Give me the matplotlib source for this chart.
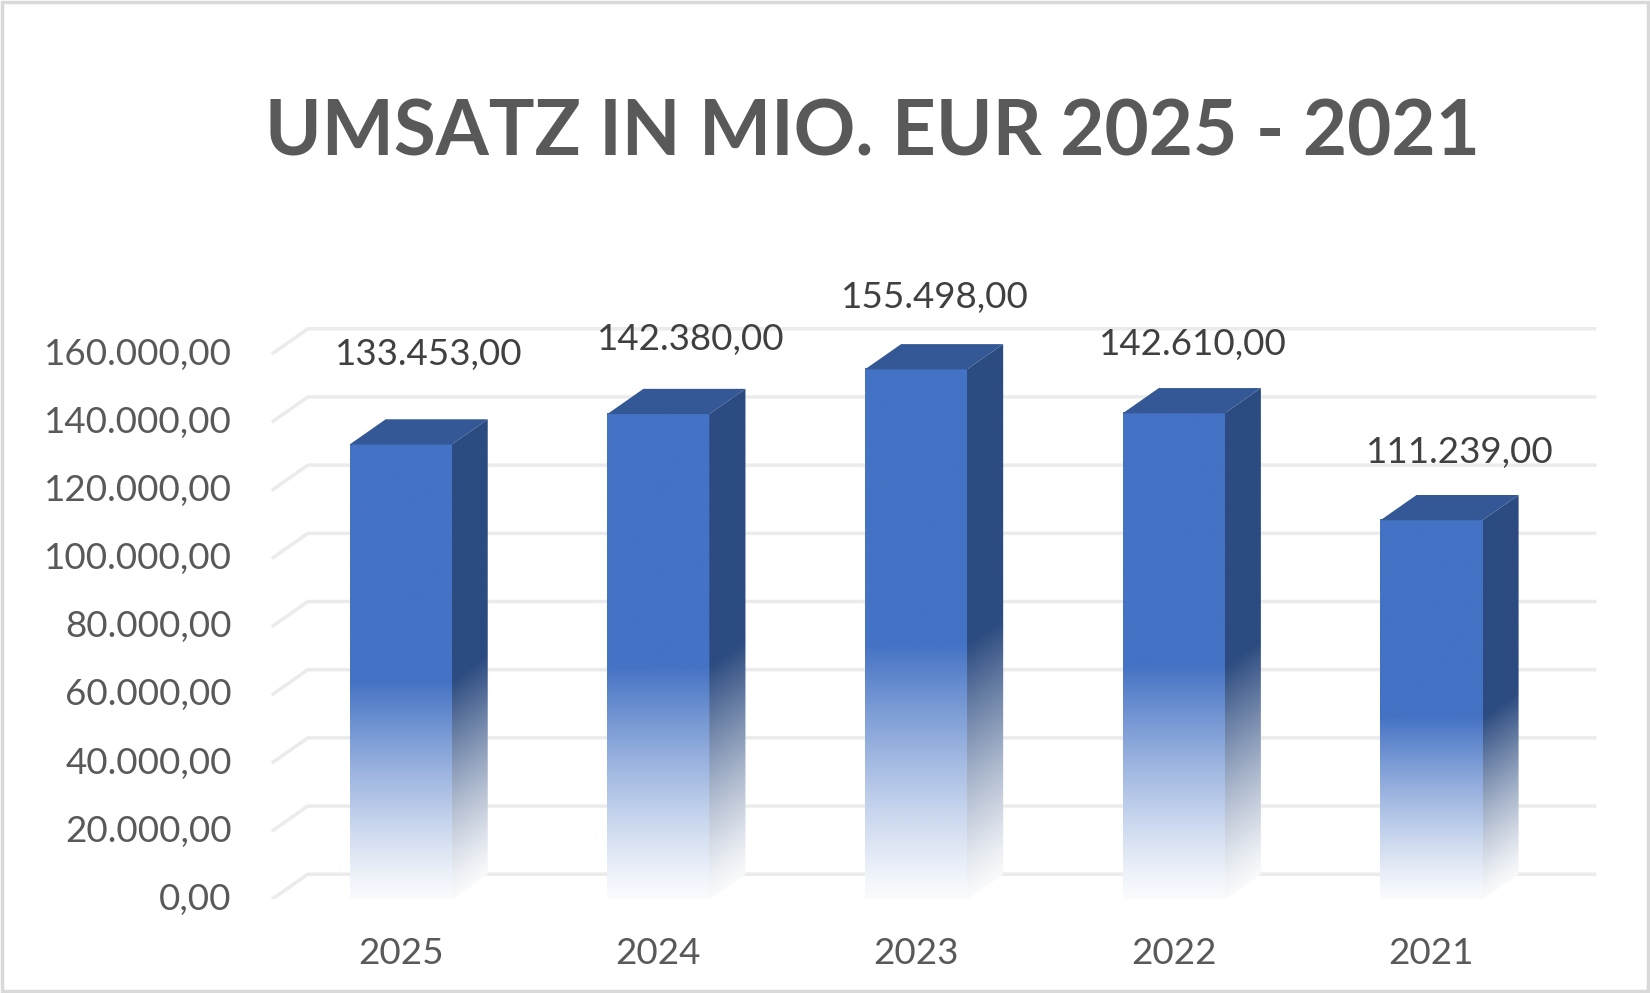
import matplotlib
matplotlib.use('Agg')
import matplotlib.pyplot as plt
import numpy as np
from matplotlib.patches import Polygon, Rectangle
from matplotlib.colors import to_rgb

years = ['2025', '2024', '2023', '2022', '2021']
umsatz = [133453, 142380, 155498, 142610, 111239]
yticks = [0, 20000, 40000, 60000, 80000, 100000, 120000, 140000, 160000]
title = 'UMSATZ IN MIO. EUR 2025 - 2021'

# small nudges for the data labels (Excel places them a bit unevenly)
label_dx = [0.0, 0.015, -0.035, -0.035, 0.0]
label_dy = [4300, 0, -900, -1900, -2200]


def de_fmt(v):
    # 133453 -> 133.453,00
    return f'{v:,.2f}'.replace(',', 'X').replace('.', ',').replace('X', '.')


plt.rcParams['font.family'] = ['Lato', 'DejaVu Sans']

front_col = np.array(to_rgb('#4472c4'))
side_col = np.array(to_rgb('#2c4b80'))
top_col = '#335895'
white = np.ones(3)

dx = 0.14      # depth in category units
dy = 7400      # depth in value units
half = 0.198   # half bar width
fade = 0.48    # share of bar height that fades out

fig = plt.figure(figsize=(16.5, 9.93), dpi=100)
ax = fig.add_axes([0.1569, 0.0942, 0.820, 0.6008])


def shade(col, t):
    m = 0.03 + 0.97 * np.clip(t / fade, 0, 1) ** 1.2
    return white * (1 - m[..., None]) + col * m[..., None]


# gridlines on the back wall with a slanted floor edge
for v in yticks:
    ax.plot([-0.5, -0.5 + dx, 4.5 + dx], [v, v + dy, v + dy],
            color='#ebebeb', lw=2.5, zorder=1, solid_capstyle='butt')
    ax.text(-0.655, v, de_fmt(v), ha='right', va='center',
            fontsize=26.5, color='#595959')

for i, (yr, h) in enumerate(zip(years, umsatz)):
    x0, x1 = i - half, i + half

    # front face
    ty = np.linspace(0, 1, 300)
    img = shade(front_col, ty)[:, None, :]
    ax.imshow(img, extent=[x0, x1, 0, h], origin='lower', aspect='auto',
              interpolation='bilinear', zorder=3)

    # side face
    side = Polygon([(x1, 0), (x1 + dx, dy), (x1 + dx, h + dy), (x1, h)],
                   closed=True, fc='none', ec='none', zorder=3)
    ax.add_patch(side)
    gx, gy = np.meshgrid(np.linspace(x1, x1 + dx, 60),
                         np.linspace(0, h + dy, 400))
    t = (gy - (gx - x1) / dx * dy) / h
    im = ax.imshow(shade(side_col, t), extent=[x1, x1 + dx, 0, h + dy],
                   origin='lower', aspect='auto', interpolation='bilinear',
                   zorder=3)
    im.set_clip_path(side)

    # top face
    ax.add_patch(Polygon([(x0, h), (x0 + dx, h + dy), (x1 + dx, h + dy), (x1, h)],
                         closed=True, fc=top_col, ec='none', zorder=4))

    ax.text(i + 0.11 + label_dx[i], h + 22000 + label_dy[i], de_fmt(h),
            ha='center', va='center', fontsize=26.5, color='#404040')
    ax.text(i, -15800, yr, ha='center', va='center',
            fontsize=26.5, color='#595959')

ax.set_xlim(-0.55, 4.7)
ax.set_ylim(0, 175000)
ax.axis('off')

fig.text(0.529, 0.866, title, ha='center', va='center',
         fontsize=55, fontweight='bold', color='#595959')

fig.add_artist(Rectangle((0.0015, 0.0025), 0.997, 0.995, transform=fig.transFigure,
                         fill=False, ec='#d9d9d9', lw=2.5))

fig.savefig('out.png', dpi=100)
